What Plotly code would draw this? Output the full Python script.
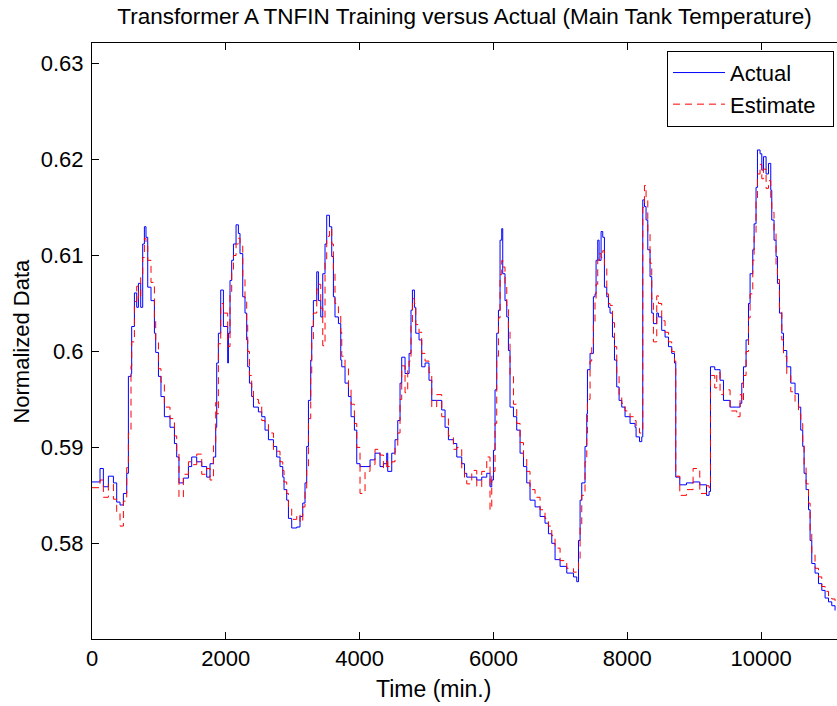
import plotly.graph_objects as go

# Time axis (min.) shared by both series
time = [0, 120, 170, 245, 320, 369, 419, 469, 519, 544, 583, 593, 634, 668, 694, 728, 758, 783, 807, 833,
        882, 933, 952, 993, 1031, 1082, 1166, 1232, 1266, 1300, 1366, 1441, 1490, 1565, 1640, 1714, 1764, 1815, 1849,
        1864, 1889, 1924, 1964, 2028, 2039, 2063, 2088, 2114, 2153, 2188, 2212, 2253, 2287, 2312, 2327, 2353, 2387,
        2413, 2487, 2537, 2586, 2637, 2712, 2761, 2810, 2851, 2870, 2910, 2936, 2985, 3060, 3109, 3150, 3184, 3209,
        3235, 3269, 3284, 3309, 3359, 3384, 3419, 3449, 3483, 3508, 3549, 3583, 3608, 3632, 3683, 3718,
        3733, 3782, 3833, 3872, 3922, 3957, 4006, 4081, 4156, 4230, 4305, 4356, 4405, 4420, 4480, 4529, 4570, 4604,
        4629, 4679, 4719, 4739, 4768, 4789, 4819, 4839, 4888, 4928, 4978, 5037, 5078, 5152, 5227, 5277, 5327, 5402,
        5452, 5526, 5567,
        5601, 5676, 5751, 5825, 5900, 5949, 5975, 6000, 6024, 6049, 6075, 6099, 6124, 6139, 6173, 6199, 6224, 6248,
        6299, 6348, 6398, 6449, 6498, 6547, 6622, 6697, 6771, 6822, 6872, 6921, 6996, 7096, 7196, 7245, 7271, 7295,
        7320, 7369, 7395, 7405, 7444,
        7469, 7494, 7518, 7534, 7559, 7579, 7609, 7634, 7659, 7694, 7719, 7743, 7779, 7809, 7843, 7878, 7918, 7967,
        8042, 8117, 8132, 8183, 8217, 8232, 8257, 8281, 8307, 8341, 8366, 8391, 8441, 8466, 8515, 8565, 8616, 8665,
        8706, 8725, 8785, 8885, 8984, 9084, 9184, 9223, 9244, 9308,
        9338, 9387, 9438, 9537, 9637, 9686, 9712, 9737, 9776, 9812, 9836, 9876, 9896, 9925, 9946, 9985, 10011, 10036,
        10075, 10111, 10145, 10160, 10194, 10224, 10245, 10275, 10310, 10335, 10384, 10444, 10508, 10559, 10593,
        10623, 10643, 10673, 10709, 10733, 10758, 10807, 10858, 10908, 10957, 11008, 11057, 11106]

actual = [0.5864, 0.5878, 0.5859, 0.5870, 0.5863, 0.5843, 0.5840, 0.5852, 0.5873, 0.5974, 0.5977, 0.6026, 0.6061,
          0.6046, 0.6071, 0.6046, 0.6112, 0.6130, 0.6119, 0.6067, 0.6053, 0.6019, 0.5999, 0.5974, 0.5953, 0.5932,
          0.5921, 0.5904, 0.5890, 0.5863, 0.5868, 0.5880, 0.5890, 0.5885, 0.5880, 0.5869, 0.5883, 0.5890, 0.5921,
          0.5988, 0.6019, 0.6064, 0.6026, 0.5988, 0.6019, 0.6074, 0.6095, 0.6112, 0.6132, 0.6123, 0.6102, 0.6057,
          0.6040, 0.6012, 0.5984, 0.5967, 0.5953, 0.5942, 0.5937, 0.5932, 0.5918, 0.5908, 0.5901, 0.5890, 0.5880,
          0.5869, 0.5856, 0.5845, 0.5826, 0.5816, 0.5817, 0.5828, 0.5842, 0.5863, 0.5901, 0.5949, 0.5991, 0.6026,
          0.6053, 0.6083, 0.6053, 0.6036, 0.6081, 0.6112, 0.6142, 0.6130, 0.6099, 0.6057, 0.6036, 0.6029, 0.5991,
          0.5984, 0.5967, 0.5953, 0.5932, 0.5918, 0.5883, 0.5880, 0.5880, 0.5887, 0.5894, 0.5880, 0.5883, 0.5894,
          0.5875, 0.5894, 0.5908, 0.5928, 0.5967, 0.5994, 0.5977, 0.5977, 0.5998, 0.6043, 0.6064, 0.6046, 0.6019,
          0.6012, 0.5984, 0.5988, 0.5970, 0.5949, 0.5949, 0.5939, 0.5921, 0.5908, 0.5904, 0.5890, 0.5883, 0.5873,
          0.5869, 0.5869, 0.5866, 0.5869, 0.5873, 0.5859, 0.5866, 0.5897, 0.5960, 0.6019, 0.6043, 0.6116, 0.6128,
          0.6081, 0.6053, 0.6036, 0.6001, 0.5942, 0.5932, 0.5918, 0.5894, 0.5880, 0.5863, 0.5845, 0.5838, 0.5828,
          0.5821, 0.5810, 0.5800, 0.5783, 0.5776, 0.5769, 0.5765, 0.5760, 0.5803, 0.5845, 0.5863, 0.5901, 0.5935,
          0.5981, 0.5998,
          0.5998, 0.6057, 0.6060, 0.6095, 0.6116, 0.6095, 0.6125, 0.6119, 0.6067, 0.6057, 0.6046, 0.6040, 0.6015,
          0.5991, 0.5963, 0.5949, 0.5942, 0.5932, 0.5925, 0.5921, 0.5911, 0.5906, 0.5911, 0.6158, 0.6151, 0.6137,
          0.6106, 0.6078, 0.6040, 0.6029, 0.6040, 0.6036, 0.6022, 0.6015, 0.6005, 0.5998, 0.5988, 0.5869, 0.5861,
          0.5863, 0.5864, 0.5861, 0.5850, 0.5854, 0.5984, 0.5981,
          0.5981, 0.5970, 0.5949, 0.5942, 0.5942, 0.5946, 0.5967, 0.5984, 0.6012, 0.6050, 0.6081, 0.6106, 0.6133,
          0.6171, 0.6210, 0.6206, 0.6189, 0.6203, 0.6185, 0.6196, 0.6168, 0.6137, 0.6116, 0.6099, 0.6071, 0.6040,
          0.6019, 0.6001, 0.5984, 0.5967, 0.5956, 0.5942, 0.5918, 0.5901, 0.5873, 0.5856, 0.5835, 0.5803, 0.5779,
          0.5769, 0.5758, 0.5751, 0.5743, 0.5739, 0.5735, 0.5730]

estimate = [0.5858, 0.5866, 0.5848, 0.5862, 0.5846, 0.5832, 0.5818, 0.5844, 0.5879, 0.5915, 0.5985, 0.6010, 0.6052,
            0.6068, 0.6055, 0.6080, 0.6098, 0.6118, 0.6110, 0.6095, 0.6072, 0.6035, 0.6012, 0.5982, 0.5968, 0.5942,
            0.5930, 0.5912, 0.5895, 0.5848, 0.5872, 0.5885, 0.5882, 0.5893, 0.5872, 0.5878, 0.5866, 0.5902, 0.5947,
            0.5935, 0.6008, 0.6050, 0.6040, 0.6010, 0.6005, 0.6060, 0.6085, 0.6100, 0.6112, 0.6118, 0.6110, 0.6075,
            0.6055, 0.6030, 0.6000, 0.5975, 0.5962, 0.5950, 0.5946, 0.5928, 0.5924, 0.5915, 0.5897, 0.5896, 0.5885,
            0.5876, 0.5864, 0.5852, 0.5836, 0.5825, 0.5830, 0.5822, 0.5838, 0.5856, 0.5880, 0.5930, 0.5975, 0.6010,
            0.6040, 0.6065, 0.6070, 0.6045, 0.6006, 0.6095, 0.6120, 0.6128, 0.6112, 0.6085, 0.6050, 0.6040, 0.6020,
            0.5995, 0.5982, 0.5962, 0.5945, 0.5925, 0.5900, 0.5852, 0.5875, 0.5882, 0.5898, 0.5892, 0.5878, 0.5888,
            0.5880, 0.5885, 0.5900, 0.5915, 0.5950, 0.5985, 0.5957, 0.5982, 0.5990, 0.6030, 0.6055, 0.6050, 0.6028,
            0.6020, 0.5998, 0.5990, 0.5978, 0.5942, 0.5955, 0.5932, 0.5930, 0.5912, 0.5898, 0.5900, 0.5876, 0.5866,
            0.5862, 0.5876, 0.5859, 0.5875, 0.5890, 0.5835, 0.5870, 0.5875, 0.5925, 0.5995, 0.6035, 0.6080, 0.6095,
            0.6088, 0.6070, 0.6048, 0.6022, 0.5975, 0.5945, 0.5925, 0.5905, 0.5888, 0.5875, 0.5856, 0.5848, 0.5835,
            0.5826, 0.5818, 0.5808, 0.5795, 0.5782, 0.5774, 0.5770, 0.5772, 0.5780, 0.5820, 0.5850, 0.5885, 0.5915,
            0.5950, 0.5990,
            0.6005, 0.6030, 0.6055, 0.6070, 0.6095, 0.6102, 0.6098, 0.6105, 0.6090, 0.6060, 0.6050, 0.6048, 0.6030,
            0.6005, 0.5975, 0.5955, 0.5946, 0.5938, 0.5932, 0.5928, 0.5920, 0.5915, 0.5918, 0.6150, 0.6173, 0.6160,
            0.6125, 0.6092, 0.6055, 0.6010, 0.6058, 0.6050, 0.6032, 0.6020, 0.6010, 0.6000, 0.5990, 0.5870, 0.5850,
            0.5856, 0.5878, 0.5852, 0.5860, 0.5858, 0.5975, 0.5962,
            0.5978, 0.5955, 0.5960, 0.5938, 0.5932, 0.5955, 0.5948, 0.5975, 0.6000, 0.6035, 0.6060, 0.6095, 0.6120,
            0.6160, 0.6185, 0.6195, 0.6180, 0.6190, 0.6170, 0.6178, 0.6160, 0.6145, 0.6125, 0.6090, 0.6075, 0.6045,
            0.6012, 0.5995, 0.5975, 0.5958, 0.5946, 0.5935, 0.5925, 0.5905, 0.5880, 0.5862, 0.5842, 0.5812, 0.5788,
            0.5774, 0.5765, 0.5755, 0.5750, 0.5745, 0.5742, 0.5740]

x_ticks = [0, 2000, 4000, 6000, 8000, 10000]
y_ticks = [0.58, 0.59, 0.60, 0.61, 0.62, 0.63]
y_tick_labels = ["0.58", "0.59", "0.6", "0.61", "0.62", "0.63"]

FONT = "Liberation Sans, Arial, sans-serif"
PAD = "\u00a0\u00a0"

fig = go.Figure()
fig.add_trace(go.Scatter(x=time, y=actual, mode="lines", name="Actual" + PAD, line_shape="hv",
                         line=dict(color="#0000ff", width=1)))
fig.add_trace(go.Scatter(x=time, y=estimate, mode="lines", name="Estimate" + PAD, line_shape="hv",
                         line=dict(color="#ff0000", width=1, dash="7px,5px")))

axis_common = dict(showline=True, linecolor="black", linewidth=1,
                   ticks="inside", ticklen=7, tickcolor="black", showgrid=False, zeroline=False,
                   tickfont=dict(family=FONT, size=22, color="black"))

fig.update_layout(
    width=837, height=706,
    margin=dict(l=92, r=0, t=43, b=67),
    paper_bgcolor="white", plot_bgcolor="white",
    title=dict(text="Transformer A TNFIN Training versus Actual (Main Tank Temperature)",
               x=0.5, xref="paper", y=0.977, yref="container", yanchor="middle",
               font=dict(family=FONT, size=22.5, color="black")),
    xaxis=dict(range=[0, 11135], tickvals=x_ticks, ticktext=[str(v) for v in x_ticks],
               mirror="ticks", **axis_common),
    yaxis=dict(range=[0.57003, 0.63215], tickvals=y_ticks, ticktext=y_tick_labels,
               mirror=False, ticklabelstandoff=3, **axis_common),
    legend=dict(x=0.996, xanchor="right", y=0.987, yanchor="top", itemwidth=52,
                bgcolor="white", bordercolor="black", borderwidth=1,
                font=dict(family=FONT, size=22, color="black")),
    annotations=[
        dict(text="Time (min.)", xref="paper", yref="paper", x=0.458, y=0, yanchor="middle",
             yshift=-50, showarrow=False, font=dict(family=FONT, size=23, color="black")),
        dict(text="Normalized Data", xref="paper", yref="paper", x=0, y=0.499, xanchor="center",
             xshift=-70, textangle=-90, showarrow=False, font=dict(family=FONT, size=22, color="black")),
    ],
)

fig.write_html("out.html")
